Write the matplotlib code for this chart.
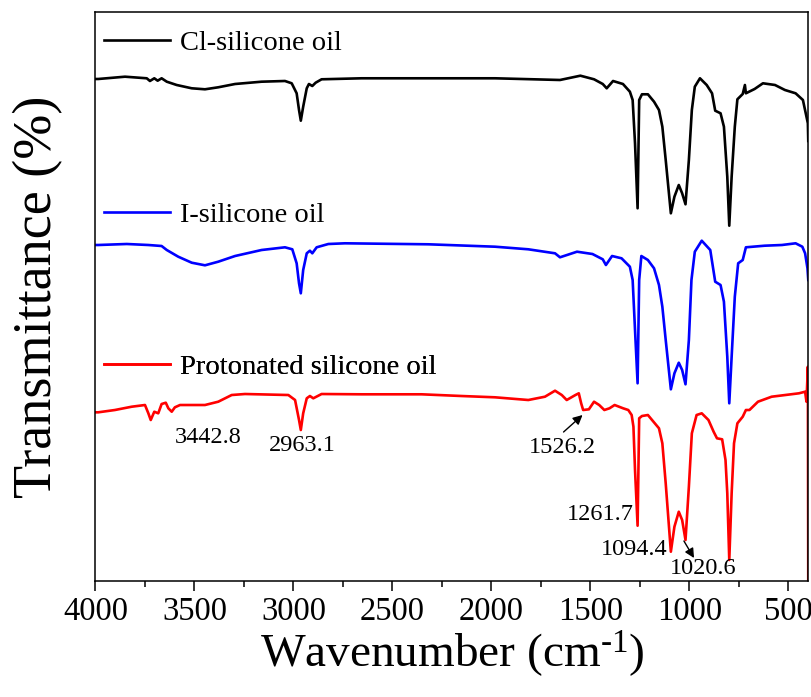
import matplotlib
matplotlib.use("Agg")
import matplotlib.pyplot as plt
from matplotlib.ticker import MultipleLocator

plt.rcParams['font.family'] = ['Liberation Serif', 'DejaVu Serif']
plt.rcParams['mathtext.fontset'] = 'custom'
plt.rcParams['mathtext.rm'] = 'Liberation Serif'
plt.rcParams['mathtext.it'] = 'Liberation Serif:italic'

# ---------------- data (wavenumber cm-1, transmittance in arbitrary offset units) -------------
cl_wn = [4000, 3986, 3851, 3741, 3725, 3703, 3686, 3666, 3640, 3590, 3514, 3447, 3380, 3295, 3161,
         3043, 3009, 2984, 2972, 2963, 2951, 2933, 2922, 2905, 2888, 2858, 2656, 2321, 1982, 1654,
         1551, 1482, 1438, 1418, 1386, 1336, 1301, 1287, 1275, 1262, 1254, 1240, 1210, 1179, 1154,
         1137, 1120, 1094, 1076, 1054, 1037, 1020, 1003, 988, 973, 947, 913, 886, 870, 843, 826,
         809, 799, 787, 771, 758, 731, 720, 715, 671, 629, 568, 518, 464, 427, 402, 400]
cl_t = [502, 502, 504.3, 502.7, 500, 502.7, 500.3, 502.7, 499.3, 496, 492.7, 491.7, 493.7, 497, 499.3,
        500, 497.7, 487.7, 471, 460.3, 474.3, 492.7, 497, 495, 498.3, 501.7, 502.7, 502.7, 502.7, 501,
        505.3, 501.7, 497, 492.7, 500, 497, 489.3, 481, 437.7, 372.7, 481, 486.7, 486.7, 479.3, 471,
        454.3, 421, 367.7, 384.3, 396, 387.7, 376.7, 421, 471, 494.3, 502.7, 496, 487.7, 470.3, 467.7, 454.3,
        404.3, 355.3, 404.3, 454.3, 481.7, 487, 496, 487.7, 492, 497.7, 496, 491, 487.7, 481, 457.7, 440]

i_wn = [4000, 3986, 3842, 3733, 3666, 3640, 3582, 3514, 3447, 3380, 3295, 3161, 3043, 3006, 2984,
        2972, 2963, 2951, 2933, 2917, 2905, 2883, 2824, 2740, 2319, 1982, 1814, 1679, 1654, 1568,
        1490, 1438, 1422, 1391, 1343, 1301, 1287, 1275, 1262, 1254, 1243, 1210, 1179, 1154, 1137,
        1120, 1094, 1076, 1054, 1037, 1020, 1003, 990, 973, 938, 895, 870, 843, 826, 809, 799, 787,
        771, 754, 731, 715, 620, 533, 464, 430, 416, 404, 400]
i_t = [336, 336, 337, 336, 335, 331, 324.3, 318.3, 315.7, 319.3, 325, 331, 333.7, 331.7, 317.7,
       297.7, 287.7, 311, 327.7, 330.3, 327.7, 333.7, 337, 337.7, 336.7, 334.3, 331.7, 327.7, 323.7, 329.3,
       327, 321.7, 316, 325, 322.7, 314.3, 301, 251, 197.7, 301, 325, 321, 312.7, 296, 274.3,
       241, 191.7, 207.7, 218.3, 211, 196.7, 241, 301, 329.3, 340.3, 331, 299.3, 296, 279.3, 224.3, 177.7, 224.3,
       284.3, 317.7, 321, 333.7, 335.3, 336, 337.7, 334.3, 327.7, 312.7, 301]

h_wn = [4000, 3986, 3902, 3817, 3750, 3733, 3721, 3703, 3683, 3666, 3645, 3632, 3615, 3599, 3573,
        3447, 3380, 3312, 3245, 3026, 2992, 2972, 2963, 2951, 2933, 2917, 2900, 2858, 2656, 2353,
        2151, 1982, 1814, 1730, 1679, 1645, 1620, 1576, 1559, 1547, 1537, 1508, 1482, 1456, 1430,
        1404, 1378, 1335, 1309, 1292, 1283, 1275, 1262, 1254, 1240, 1210, 1189, 1154, 1137, 1120,
        1094, 1076, 1054, 1037, 1020, 1003, 988, 964, 938, 904, 878, 861, 835, 818, 809, 799, 787,
        775, 758, 731, 715, 697, 654, 585, 516, 447, 416, 409, 402, 400]
h_t = [168.7, 168.7, 171, 174.3, 176, 167.7, 161, 169.3, 167.7, 177, 178.3, 172.7, 169.3, 173.7, 176,
       176, 179.3, 186, 187, 186, 181, 161, 151, 167.7, 182.7, 185, 182.7, 187, 186.7, 186.7,
       185, 183.7, 181, 184.3, 190.3, 186, 181, 186, 187.7, 177.7, 171, 171.7, 179.3, 176, 171,
       172.7, 176, 172.7, 171, 166, 154.3, 111, 55.3, 162.7, 165, 166, 161, 152.7, 137.7, 97.7,
       29.3, 54.3, 69.3, 61, 41, 94.3, 147.7, 166, 167.7, 161, 149.3, 142.7, 141.7, 121, 87.7, 21, 87.7,
       137.7, 157.7, 164.3, 171, 171, 179.3, 184.3, 186, 187.7, 189.3, 179.3, 214.3, -10]

series_labels = ["Cl-silicone oil", "I-silicone oil", "Protonated silicone oil"]
series_colors = ["#000000", "#0000ff", "#ff0000"]

peak_labels = ["3442.8", "2963.1", "1526.2", "1261.7", "1094.4", "1020.6"]
xticks = [4000, 3500, 3000, 2500, 2000, 1500, 1000, 500]

# ---------------- figure ----------------
fig = plt.figure(figsize=(8.12, 6.97), dpi=100)
ax = fig.add_axes([0.1176, 0.1664, 0.8778, 0.8164])

lw = 1.9
lines = []
for wn, t, lab, c in zip([cl_wn, i_wn, h_wn], [cl_t, i_t, h_t], series_labels, series_colors):
    ln, = ax.plot(wn, t, color=c, lw=lw, label=lab, solid_joinstyle='round')
    lines.append(ln)

ax.set_xlim(4000, 400)
ax.set_ylim(0, 569)
ax.set_xticks(xticks)
ax.xaxis.set_minor_locator(MultipleLocator(250))
ax.set_yticks([])
ax.tick_params(axis='x', which='major', direction='out', length=7, width=1.1,
               labelsize=23.5, pad=4, top=False)
ax.tick_params(axis='x', which='minor', direction='out', length=4, width=1.1, top=False)
for s in ax.spines.values():
    s.set_linewidth(1.1)

ax.set_xlabel("Wavenumber (cm$^{\\mathrm{\u2010}1}$)", fontsize=34, labelpad=1)
ax.set_ylabel("Transmittance (%)", fontsize=39, labelpad=23)

# per-curve legend labels
leg_y = [0.9455, 0.643, 0.3766]
for ln, y in zip(lines, leg_y):
    lg = ax.legend(handles=[ln], loc='center left', bbox_to_anchor=(0.012, y),
                   frameon=False, fontsize=20.5, handlelength=2.3, handletextpad=0.36,
                   borderpad=0, borderaxespad=0)
    ax.add_artist(lg)

# peak annotations
label_pos = [(3433, 144), (2957, 136), (1641, 134), (1452, 67), (1280, 32), (932, 13)]
for txt, (x, y) in zip(peak_labels, label_pos):
    ax.text(x, y, txt, fontsize=17.5, ha='center', va='center')

arrow_kw = dict(arrowstyle='-|>', color='black', lw=1.0, mutation_scale=14, shrinkA=0, shrinkB=0)
ax.annotate('', xy=(1540, 166), xytext=(1636, 149), arrowprops=arrow_kw)
ax.annotate('', xy=(977, 23), xytext=(1028, 40), arrowprops=arrow_kw)

fig.savefig("out.png", dpi=100)
